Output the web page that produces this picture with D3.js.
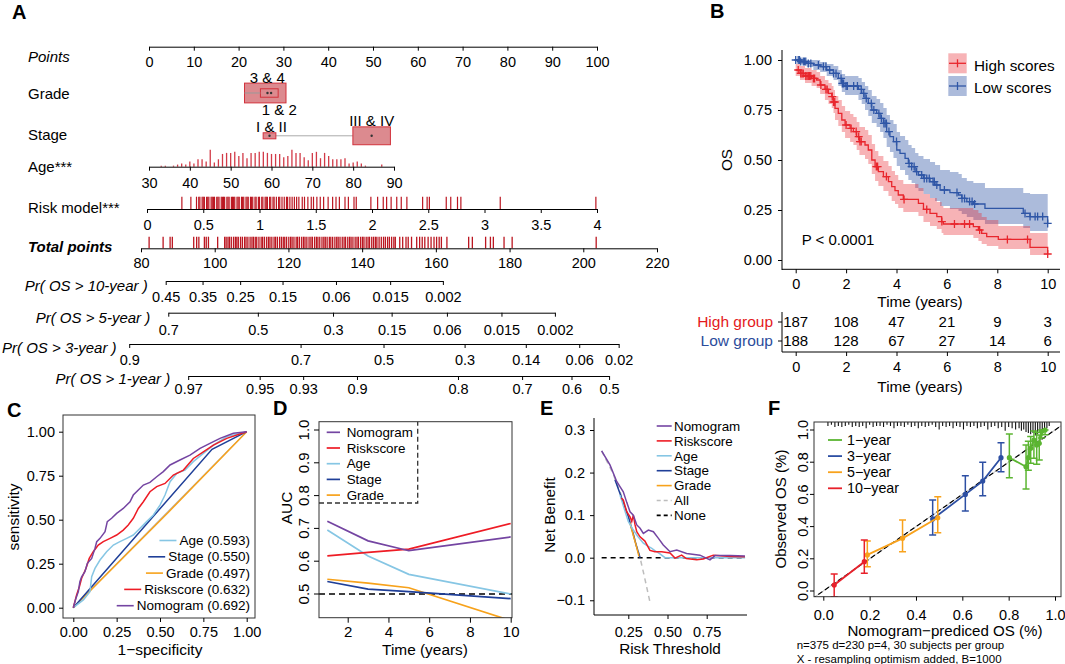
<!DOCTYPE html>
<html>
<head>
<meta charset="utf-8">
<script src="https://cdn.jsdelivr.net/npm/d3@7"></script>
<style>
  body { margin: 0; background: #fff; }
</style>
</head>
<body>
<script>
// ---------------- A: nomogram ----------------
var pointsTicks = [0, 10, 20, 30, 40, 50, 60, 70, 80, 90, 100];
var gradeLevels = ["3 & 4", "1 & 2"];
var gradePoints = [25.95, 26.85];
var gradeShare = [0.82, 0.15];
var stageLevels = ["I & II", "III & IV"];
var stagePoints = [26.9, 49.7];
var stageShare = [0.077, 0.671];
var ageTicks = [30, 40, 50, 60, 70, 80, 90];
var ageBins = [33,34,36,37,38,39,40,41,42,43,44,45,46,47,48,49,50,51,52,53,54,55,56,57,58,59,60,61,62,63,64,65,66,67,68,69,70,71,72,73,74,75,76,77,78,79,80,81,82,83,87];
var ageCounts = [1,1,1,2,3,2,5,3,7,7,5,16,4,7,12,13,13,14,10,13,8,13,13,14,14,13,12,12,12,9,10,16,13,13,9,6,13,14,8,13,10,7,7,7,8,3,4,5,3,1,2];
var riskTicks = [0, 0.5, 1, 1.5, 2, 2.5, 3, 3.5, 4];
var riskRug = [0.31,0.39,0.44,0.46,0.47,0.49,0.5,0.51,0.53,0.54,0.55,0.57,0.58,0.59,0.6,0.62,0.63,0.64,0.66,0.67,0.68,0.69,0.71,0.72,0.73,0.75,0.76,0.77,0.78,0.8,0.81,0.82,0.84,0.85,0.86,0.88,0.89,0.9,0.92,0.93,0.94,0.96,0.97,0.99,1.0,1.02,1.03,1.05,1.06,1.07,1.09,1.1,1.12,1.13,1.15,1.17,1.18,1.2,1.22,1.24,1.25,1.27,1.29,1.31,1.33,1.35,1.38,1.4,1.43,1.46,1.48,1.51,1.54,1.57,1.61,1.65,1.68,1.71,1.76,1.79,1.84,1.86,1.99,2.05,2.10,2.13,2.17,2.22,2.26,2.31,2.45,2.49,2.51,2.66,2.70,2.76,2.79,3.14,3.99];
var totalTicks = [80, 100, 120, 140, 160, 180, 200, 220];
var totalRug = [82.2,86.0,87.9,88.5,94.3,95.1,95.7,97.2,97.7,98.3,100.8,
  102.7,103.1,103.6,104.0,104.5,105.1,105.6,106.0,106.4,107.0,107.5,108.1,108.5,109.0,109.6,110.1,110.5,111.0,111.4,112.0,
  112.6,113.0,113.5,114.1,114.6,115.0,115.5,116.1,116.5,117.0,117.6,118.1,118.6,119.0,119.5,120.1,120.6,121.0,121.5,122.1,
  122.5,123.0,123.6,124.1,124.5,125.0,125.6,126.1,126.5,127.1,127.6,128.0,128.5,129.1,129.6,130.0,130.5,131.1,131.5,132.0,
  132.6,133.1,133.5,134.0,134.6,135.1,135.5,136.1,136.6,137.0,137.5,138.1,138.6,139.0,139.6,140.1,140.5,141.1,141.6,142.0,
  142.6,143.1,143.6,144.0,144.6,145.2,145.8,146.3,146.9,147.4,148.0,148.6,149.0,
  150.2,151.0,151.9,152.5,153.4,154.8,155.6,156.3,157.0,157.9,158.7,159.5,160.2,160.9,161.5,163.0,
  168.9,169.9,173.5,174.8,175.6,178.5,180.7,203.5];
var os10Labels = ["0.45","0.35","0.25","0.15","0.06","0.015","0.002"];
var os10Points = [86.7, 96.7, 106.9, 118.4, 132.9, 147.6, 161.9];
var os5Labels = ["0.7","0.5","0.3","0.15","0.06","0.015","0.002"];
var os5Points = [87.4, 111.7, 132.1, 148.0, 163.0, 177.8, 192.3];
var os3Labels = ["0.9","0.7","0.5","0.3","0.14","0.06","0.02"];
var os3Points = [76.8, 123.3, 145.8, 167.8, 184.4, 198.9, 209.6];
var os1Labels = ["0.97","0.95","0.93","0.9","0.8","0.7","0.6","0.5"];
var os1Points = [92.8, 112.2, 124.0, 138.6, 166.0, 183.4, 196.8, 207.0];

// ---------------- B: Kaplan-Meier ----------------
// [time, survival, lower, upper]
var kmHigh = [[0,0.95,0.92,0.98],[0.17,0.933,0.90,0.97],[0.37,0.92,0.885,0.96],[0.63,0.908,0.87,0.95],[0.83,0.90,0.86,0.94],
  [0.97,0.875,0.83,0.92],[1.16,0.853,0.80,0.90],[1.3,0.833,0.78,0.885],[1.43,0.817,0.76,0.87],[1.5,0.79,0.735,0.85],
  [1.56,0.758,0.70,0.82],[1.69,0.733,0.67,0.80],[1.83,0.70,0.64,0.77],[1.96,0.675,0.61,0.745],[2.16,0.658,0.59,0.73],
  [2.29,0.642,0.575,0.715],[2.42,0.617,0.55,0.69],[2.53,0.592,0.525,0.665],[2.75,0.575,0.505,0.65],[2.88,0.55,0.48,0.625],
  [3.02,0.50,0.43,0.58],[3.15,0.467,0.395,0.545],[3.28,0.442,0.37,0.52],[3.48,0.417,0.345,0.495],[3.68,0.392,0.32,0.47],
  [3.81,0.367,0.295,0.445],[3.94,0.347,0.28,0.425],[4.07,0.325,0.26,0.40],[4.27,0.303,0.24,0.38],[4.87,0.283,0.22,0.36],
  [5.07,0.253,0.19,0.33],[5.33,0.233,0.17,0.31],[5.6,0.217,0.155,0.29],[5.79,0.192,0.135,0.27],[5.86,0.18,0.125,0.26],
  [7.05,0.167,0.11,0.25],[7.25,0.15,0.095,0.235],[7.38,0.133,0.08,0.215],[7.58,0.117,0.07,0.20],[8.04,0.103,0.055,0.17],
  [9.3,0.063,0.025,0.135],[10,0.03,0.0,0.133]];
var kmLow = [[0,1.0,1.0,1.0],[0.17,0.992,0.98,1.0],[0.44,0.983,0.965,1.0],[0.7,0.975,0.95,1.0],[0.97,0.967,0.94,0.99],
  [1.23,0.95,0.92,0.98],[1.5,0.933,0.90,0.97],[1.69,0.908,0.87,0.95],[1.83,0.883,0.84,0.93],[1.96,0.87,0.825,0.92],
  [2.49,0.853,0.80,0.91],[2.62,0.833,0.78,0.89],[2.75,0.808,0.75,0.87],[2.88,0.783,0.72,0.85],[3.02,0.75,0.685,0.82],
  [3.21,0.733,0.665,0.805],[3.35,0.708,0.64,0.785],[3.48,0.683,0.61,0.76],[3.61,0.642,0.565,0.725],[3.74,0.617,0.54,0.70],
  [3.88,0.592,0.51,0.68],[4.01,0.55,0.47,0.64],[4.14,0.533,0.45,0.62],[4.34,0.508,0.425,0.60],[4.47,0.483,0.40,0.575],
  [4.6,0.467,0.385,0.56],[4.74,0.442,0.36,0.535],[4.87,0.425,0.345,0.52],[5.07,0.408,0.33,0.505],[5.33,0.392,0.31,0.49],
  [5.53,0.375,0.295,0.475],[5.73,0.35,0.27,0.45],[6.12,0.337,0.255,0.44],[6.46,0.325,0.245,0.43],[6.59,0.308,0.23,0.41],
  [6.79,0.292,0.215,0.395],[7.05,0.28,0.20,0.385],[7.51,0.258,0.18,0.36],[9.03,0.233,0.16,0.335],[9.3,0.217,0.145,0.33],
  [10,0.183,0.13,0.33]];
var highCensor = [0.1,0.2,0.25,0.3,0.4,0.45,0.5,0.55,0.6,0.7,0.75,1.0,1.2,1.25,1.45,1.5,1.55,2.0,2.2,2.4,2.5,2.55,2.6,3.2,3.25,3.6,4.3,5.2,5.8,6.3,6.7,6.9,7.3,8.4,9.2,10];
var lowCensor = [0.0,0.1,0.15,0.2,0.3,0.35,0.4,0.5,0.6,0.9,1.1,1.2,1.35,1.5,1.6,1.8,1.85,1.9,2.0,2.05,2.3,2.45,2.6,2.7,2.8,3.0,3.1,3.3,3.4,3.5,3.55,3.6,3.7,4.0,4.5,4.6,4.7,4.8,5.0,5.1,5.2,5.3,5.45,5.5,5.6,5.9,6.4,6.6,6.7,6.9,7.0,7.1,9.1,9.3,9.5,9.6,9.8,10];
var kmTimes = [0, 2, 4, 6, 8, 10];
var kmSurvTicks = [0, 0.25, 0.5, 0.75, 1];
var riskHigh = [187, 108, 47, 21, 9, 3];
var riskLow = [188, 128, 67, 27, 14, 6];

// ---------------- C: ROC ----------------
var rocTicks = [0, 0.25, 0.5, 0.75, 1];
var rocAge = [[0,0],[0.058,0.044],[0.096,0.091],[0.106,0.176],[0.125,0.223],[0.154,0.271],[0.192,0.318],[0.231,0.356],[0.269,0.375],[0.308,0.394],[0.346,0.413],[0.385,0.451],[0.423,0.489],[0.462,0.527],[0.5,0.583],[0.529,0.64],[0.558,0.716],[0.596,0.763],[0.644,0.782],[0.692,0.83],[0.75,0.877],[0.808,0.924],[0.885,0.972],[1,1]];
var rocStage = [[0,0],[0.8,0.9],[1,1]];
var rocGrade = [[0,0],[0.55,0.544],[1,1]];
var rocRisk = [[0,0],[0.019,0.072],[0.035,0.119],[0.048,0.167],[0.073,0.223],[0.092,0.28],[0.115,0.318],[0.144,0.356],[0.173,0.375],[0.212,0.394],[0.25,0.413],[0.288,0.441],[0.317,0.47],[0.346,0.508],[0.375,0.564],[0.404,0.602],[0.442,0.659],[0.481,0.688],[0.529,0.706],[0.577,0.754],[0.635,0.782],[0.692,0.848],[0.75,0.886],[0.808,0.924],[0.885,0.962],[1,1]];
var rocNomo = [[0,0],[0.015,0.053],[0.029,0.091],[0.038,0.148],[0.048,0.176],[0.067,0.205],[0.081,0.252],[0.106,0.28],[0.125,0.337],[0.135,0.375],[0.154,0.394],[0.183,0.432],[0.196,0.489],[0.221,0.508],[0.25,0.536],[0.288,0.564],[0.327,0.602],[0.346,0.64],[0.375,0.669],[0.404,0.697],[0.442,0.712],[0.481,0.744],[0.519,0.773],[0.558,0.811],[0.615,0.839],[0.673,0.867],[0.731,0.905],[0.788,0.934],[0.846,0.962],[0.923,0.991],[1,1]];
var rocLabels = ["Age (0.593)", "Stage (0.550)", "Grade (0.497)", "Riskscore (0.632)", "Nomogram (0.692)"];

// ---------------- D: time-dependent AUC ----------------
var aucTimes = [1, 3, 5, 10];
var aucNomo = [0.722, 0.662, 0.632, 0.674];
var aucRisk = [0.616, 0.627, 0.637, 0.715];
var aucAge = [0.695, 0.616, 0.56, 0.5];
var aucStage = [0.538, 0.515, 0.507, 0.486];
var aucGrade = [0.545, 0.533, 0.519, 0.419];
var aucXTicks = [2, 4, 6, 8, 10];
var aucYTicks = [0.5, 0.6, 0.7, 0.8, 0.9, 1.0];

// ---------------- E: decision curves ----------------
var dcaAll = [[0.08,0.251],[0.15,0.2],[0.2,0.152],[0.25,0.097],[0.3,0.03],[0.325,0],[0.35,-0.04],[0.388,-0.104]];
var dcaNone = [[0.08,0],[0.995,0]];
var dcaStage = [[0.165,0.183],[0.2,0.148],[0.25,0.097],[0.28,0.058],[0.3,0.03],[0.325,0]];
var dcaGrade = [[0.26,0.082],[0.28,0.055],[0.3,0.029],[0.318,0.003]];
var dcaAge = [[0.197,0.147],[0.22,0.12],[0.25,0.085],[0.282,0.065],[0.31,0.05],[0.346,0.034],[0.375,0.027],[0.4,0.022],[0.43,0.014],[0.452,0.009],[0.484,0.0],[0.995,0.0]];
var dcaRisk = [[0.205,0.14],[0.218,0.136],[0.24,0.108],[0.261,0.096],[0.272,0.085],[0.282,0.1],[0.293,0.077],[0.304,0.061],[0.325,0.049],[0.356,0.039],[0.388,0.017],[0.42,0.014],[0.463,0.014],[0.516,0.011],[0.548,-0.001],[0.59,0.006],[0.62,-0.002],[0.686,-0.005],[0.728,-0.003],[0.748,0.0],[0.792,0.006],[0.9,0.003],[0.994,0.002]];
var dcaNomo = [[0.08,0.251],[0.133,0.218],[0.176,0.179],[0.197,0.167],[0.218,0.155],[0.24,0.13],[0.261,0.108],[0.282,0.1],[0.304,0.077],[0.325,0.069],[0.346,0.057],[0.378,0.065],[0.41,0.061],[0.441,0.046],[0.473,0.03],[0.516,0.014],[0.559,0.018],[0.622,0.01],[0.707,0.006],[0.771,-0.005],[0.803,0.005],[0.9,0.005],[0.994,0.004]];
var dcaXTicks = [0.25, 0.5, 0.75];
var dcaYTicks = [-0.1, 0, 0.1, 0.2, 0.3];

// ---------------- F: calibration ----------------
// [predicted, observed, lower, upper]
var cal1 = [[0.803,0.828,0.704,0.975],[0.875,0.772,0.634,0.907],[0.885,0.828,0.75,0.93],[0.895,0.886,0.793,0.959],[0.909,0.938,0.824,0.994],[0.921,0.907,0.787,0.986],[0.932,0.917,0.814,0.969],[0.942,0.99,0.95,1.0],[0.957,1.0,0.97,1.0]];
var cal3 = [[0.472,0.447,0.348,0.565],[0.613,0.6,0.497,0.716],[0.688,0.683,0.592,0.799],[0.767,0.828,0.741,0.921]];
var cal5 = [[0.19,0.224,0.151,0.31],[0.342,0.327,0.244,0.441],[0.494,0.455,0.362,0.586]];
var cal10 = [[0.047,0.037,-0.035,0.106],[0.177,0.182,0.11,0.317]];
var calTicks = [0, 0.2, 0.4, 0.6, 0.8, 1.0];
var calRug = [[0.02,2],[0.035,1],[0.05,3],[0.065,2],[0.08,3],[0.095,2],[0.11,1],[0.125,3],[0.14,2],[0.155,3],[0.17,2],[0.185,4],[0.2,1],[0.215,3],[0.23,2],[0.245,2],[0.26,3],[0.275,1],[0.29,2],[0.305,4],[0.32,2],[0.335,2],[0.35,3],[0.365,1],[0.38,3],[0.395,2],[0.41,4],[0.425,2],[0.44,3],[0.455,2],[0.47,1],[0.485,3],[0.5,5],[0.515,2],[0.53,3],[0.545,2],[0.56,4],[0.575,2],[0.59,3],[0.605,5],[0.62,2],[0.635,3],[0.65,2],[0.665,4],[0.68,3],[0.695,2],[0.71,5],[0.725,3],[0.74,2],[0.755,4],[0.77,3],[0.785,6],[0.8,3],[0.815,4],[0.83,5],[0.845,4],[0.855,6],[0.865,5],[0.875,7],[0.885,8],[0.895,9],[0.905,8],[0.915,10],[0.925,9],[0.935,8],[0.945,7],[0.955,6],[0.965,4],[0.975,2]];

//colours
var RED = "#e8262d", BLUE = "#2f56a6";
var COL = { nomo: "#7445a2", risk: "#ee1c25", age: "#86c6e4", stage: "#1f3f98", grade: "#f7a21b" };
var FONT = "'Liberation Sans', Arial, Helvetica, sans-serif";

//create SVG element
var svg = d3.select("body").append("svg")
  .attr("width", 1065).attr("height", 664)
  .style("font-family", FONT);

function txt(x, y, s, size, opt) {
  opt = opt || {};
  var t = svg.append("text").attr("x", x).attr("y", y).text(s)
    .attr("font-size", size)
    .attr("text-anchor", opt.anchor || "start")
    .attr("fill", opt.fill || "#000");
  if (opt.weight) t.attr("font-weight", opt.weight);
  if (opt.style) t.attr("font-style", opt.style);
  if (opt.rotate) t.attr("transform", "rotate(-90," + x + "," + y + ")");
  return t;
}

function styleAxis(g, size) {
  g.attr("font-size", size).attr("font-family", FONT);
  g.selectAll("line").attr("stroke", "#000");
  g.selectAll("path.domain").attr("stroke", "#000");
  g.selectAll("text").attr("fill", "#000");
  return g;
}

function seg(x1, y1, x2, y2, col, w, dash) {
  var l = svg.append("line").attr("x1", x1).attr("y1", y1).attr("x2", x2).attr("y2", y2)
    .attr("stroke", col).attr("stroke-width", w || 1);
  if (dash) l.attr("stroke-dasharray", dash);
  return l;
}

// panel letters
txt(12, 19, "A", 20, {weight: "bold"});
txt(710, 18, "B", 20, {weight: "bold"});
txt(7, 417, "C", 20, {weight: "bold"});
txt(273, 415, "D", 20, {weight: "bold"});
txt(540, 415, "E", 20, {weight: "bold"});
txt(768, 415, "F", 20, {weight: "bold"});

// ================= A =================
var ptsX = d3.scaleLinear().domain([0, 100]).range([149, 597]);
var ageX = d3.scaleLinear().domain([30, 90]).range([149, 394]);
var riskX = d3.scaleLinear().domain([0, 4]).range([147, 597]);
var totX = d3.scaleLinear().domain([80, 220]).range([141, 657]);

function nomoAxis(scale, vals, fmt, y, pad) {
  var g = svg.append("g").attr("transform", "translate(0," + y + ")")
    .call(d3.axisBottom(scale).tickValues(vals).tickFormat(fmt)
      .tickSize(4).tickSizeOuter(0).tickPadding(pad));
  return styleAxis(g, 14.5);
}

nomoAxis(ptsX, pointsTicks, function(d){ return String(d); }, 46.7, 6);
txt(28, 62, "Points", 15, {style: "italic"});
txt(28, 99, "Grade", 15);
txt(28, 140, "Stage", 15);
txt(28, 172, "Age***", 15);
txt(28, 213, "Risk model***", 15);
txt(28, 252, "Total points", 15, {style: "italic", weight: "bold"});

function boxW(s) { return Math.sqrt(s * 1000 * 2.1); }
function boxH(s) { return Math.sqrt(s * 1000 / 2.1); }

// grade
var gradeY = 93;
gradeLevels.forEach(function(lv, i) {
  var cx = ptsX(gradePoints[i]), w = boxW(gradeShare[i]), h = boxH(gradeShare[i]);
  svg.append("rect").attr("x", cx - w / 2).attr("y", gradeY - h / 2).attr("width", w).attr("height", h)
    .attr("fill", "#dc8a8f").attr("stroke", "#d2323c").attr("stroke-width", 1);
});
seg(ptsX(gradePoints[0]) - boxW(gradeShare[0]) / 2, gradeY, ptsX(gradePoints[1]) - boxW(gradeShare[1]) / 2, gradeY, "#999", 1);
txt(ptsX(gradePoints[0]) + 2, gradeY - boxH(gradeShare[0]) / 2, gradeLevels[0], 15, {anchor: "middle"});
txt(ptsX(gradePoints[1]) + 10, gradeY + 22, gradeLevels[1], 15, {anchor: "middle"});
svg.append("circle").attr("cx", ptsX(gradePoints[1]) - 1.8).attr("cy", gradeY).attr("r", 1.2).attr("fill", "#333");
svg.append("circle").attr("cx", ptsX(gradePoints[1]) + 1.8).attr("cy", gradeY).attr("r", 1.2).attr("fill", "#333");

// stage
var stageY = 135.8;
seg(ptsX(stagePoints[0]), stageY, ptsX(stagePoints[1]), stageY, "#aaa", 1);
stageLevels.forEach(function(lv, i) {
  var cx = ptsX(stagePoints[i]), w = boxW(stageShare[i]), h = boxH(stageShare[i]);
  svg.append("rect").attr("x", cx - w / 2).attr("y", stageY - h / 2).attr("width", w).attr("height", h)
    .attr("fill", "#dc8a8f").attr("stroke", "#d2323c").attr("stroke-width", 1);
  svg.append("circle").attr("cx", cx).attr("cy", stageY).attr("r", 1.2).attr("fill", "#333");
  txt(cx + (i === 0 ? 2 : 0), stageY - h / 2 - 1, lv, 15, {anchor: "middle"});
});

// age histogram spikes
var ageLineY = 166.7;
var ageH = d3.scaleLinear().domain([0, 16]).range([0, 17]);
ageBins.forEach(function(a, i) {
  seg(ageX(a), ageLineY, ageX(a), ageLineY - ageH(ageCounts[i]), "#d23a47", 1.3);
});
nomoAxis(ageX, ageTicks, function(d){ return String(d); }, ageLineY, 7);

// risk model rug
riskRug.forEach(function(v) { seg(riskX(v), 196.7, riskX(v), 209, "#bb1620", 1.2); });
nomoAxis(riskX, riskTicks, function(d){ return String(d); }, 209, 6.7);

// total points rug
totalRug.forEach(function(v) { seg(totX(v), 236.7, totX(v), 248.3, "#bb1620", 1.3); });
nomoAxis(totX, totalTicks, function(d){ return String(d); }, 248.3, 5.4);

function probAxis(labels, tp, y, pad, name, nameY) {
  var s = d3.scaleLinear().domain([tp[0], tp[tp.length - 1]])
    .range([totX(tp[0]), totX(tp[tp.length - 1])]);
  nomoAxis(s, tp, function(d) { return labels[tp.indexOf(d)]; }, y, pad);
  var t = txt(0, nameY, name, 15, {style: "italic"});
  var w = t.node().getComputedTextLength();
  var end = Math.max(totX(tp[0]) - 18, w + 2);
  t.attr("x", end).attr("text-anchor", "end");
}
probAxis(os10Labels, os10Points, 281, 6.4, "Pr( OS > 10-year )", 291);
probAxis(os5Labels, os5Points, 312.7, 8, "Pr( OS > 5-year )", 323);
probAxis(os3Labels, os3Points, 344, 6.7, "Pr( OS > 3-year )", 353);
probAxis(os1Labels, os1Points, 376, 3.7, "Pr( OS > 1-year )", 384);

// ================= B =================
var kmX = d3.scaleLinear().domain([0, 10]).range([795.7, 1047.7]);
var kmY = d3.scaleLinear().domain([0, 1]).range([260, 60]);

var band = d3.area().curve(d3.curveStepAfter)
  .x(function(d){ return kmX(d[0]); })
  .y0(function(d){ return kmY(d[2]); })
  .y1(function(d){ return kmY(d[3]); });
var step = d3.line().curve(d3.curveStepAfter)
  .x(function(d){ return kmX(d[0]); })
  .y(function(d){ return kmY(d[1]); });

svg.append("path").datum(kmLow).attr("d", band).attr("fill", BLUE).attr("fill-opacity", 0.4);
svg.append("path").datum(kmHigh).attr("d", band).attr("fill", RED).attr("fill-opacity", 0.35);
svg.append("path").datum(kmLow).attr("d", step).attr("fill", "none").attr("stroke", BLUE).attr("stroke-width", 1.3);
svg.append("path").datum(kmHigh).attr("d", step).attr("fill", "none").attr("stroke", RED).attr("stroke-width", 1.3);

function survAt(curve, t) {
  var i = d3.bisector(function(d){ return d[0]; }).right(curve, t) - 1;
  return curve[Math.max(0, i)][1];
}
function cross(x, y, col) {
  svg.append("path").attr("d", "M" + (x - 4) + "," + y + "h8M" + x + "," + (y - 4) + "v8")
    .attr("stroke", col).attr("stroke-width", 1.3).attr("fill", "none");
}
lowCensor.forEach(function(t){ cross(kmX(t), kmY(survAt(kmLow, t)), BLUE); });
highCensor.forEach(function(t){ cross(kmX(t), kmY(survAt(kmHigh, t)), RED); });

// legend
svg.append("rect").attr("x", 948.3).attr("y", 53.3).attr("width", 18.4).attr("height", 20).attr("fill", RED).attr("fill-opacity", 0.35);
svg.append("rect").attr("x", 948.3).attr("y", 76).attr("width", 18.4).attr("height", 20).attr("fill", BLUE).attr("fill-opacity", 0.4);
seg(949, 63.3, 966, 63.3, RED, 1.3); seg(957.5, 59.3, 957.5, 67.3, RED, 1.3);
seg(949, 86, 966, 86, BLUE, 1.3); seg(957.5, 82, 957.5, 90, BLUE, 1.3);
txt(974, 70.5, "High scores", 15.3);
txt(974, 93, "Low scores", 15.3);
txt(801.7, 245, "P < 0.0001", 15);

// axes
var kmGy = svg.append("g").attr("transform", "translate(782,0)")
  .call(d3.axisLeft(kmY).tickValues(kmSurvTicks).tickFormat(d3.format(".2f")).tickSize(4).tickPadding(6));
kmGy.select(".domain").remove();
styleAxis(kmGy, 14.5);
seg(782, 50, 782, 270, "#000", 1);
var kmGx = svg.append("g").attr("transform", "translate(0,269.3)")
  .call(d3.axisBottom(kmX).tickValues(kmTimes).tickSize(4).tickPadding(5.5));
kmGx.select(".domain").remove();
styleAxis(kmGx, 14.5);
seg(782, 269.3, 1060, 269.3, "#000", 1);
txt(920, 306.5, "Time (years)", 15.3, {anchor: "middle"});
txt(732, 160, "OS", 15.3, {anchor: "middle", rotate: true});

// risk table
txt(773, 327, "High group", 15.5, {anchor: "end", fill: "#e41a1c"});
txt(773, 346, "Low group", 15.5, {anchor: "end", fill: "#2b4c9b"});
kmTimes.forEach(function(t, i) {
  txt(kmX(t), 327, riskHigh[i], 15, {anchor: "middle"});
  txt(kmX(t), 346, riskLow[i], 15, {anchor: "middle"});
});
seg(782, 312, 782, 352, "#000", 1);
seg(778, 322, 782, 322, "#000", 1);
seg(778, 341, 782, 341, "#000", 1);
var rtGx = svg.append("g").attr("transform", "translate(0,352)")
  .call(d3.axisBottom(kmX).tickValues(kmTimes).tickSize(4).tickPadding(6.2));
rtGx.select(".domain").remove();
styleAxis(rtGx, 14.5);
seg(782, 352, 1060, 352, "#000", 1);
txt(920, 392, "Time (years)", 15.3, {anchor: "middle"});

// ================= C =================
var rcX = d3.scaleLinear().domain([0, 1]).range([73.3, 246.7]);
var rcY = d3.scaleLinear().domain([0, 1]).range([607.7, 431.7]);
var rocLine = d3.line().x(function(d){ return rcX(d[0]); }).y(function(d){ return rcY(d[1]); });
svg.append("path").datum([[0,0],[1,1]]).attr("d", rocLine).attr("stroke", "#b0b0b0").attr("stroke-width", 1.2).attr("fill", "none");
[[rocGrade, COL.grade], [rocStage, COL.stage], [rocAge, COL.age], [rocRisk, COL.risk], [rocNomo, COL.nomo]].forEach(function(s) {
  svg.append("path").datum(s[0]).attr("d", rocLine).attr("stroke", s[1]).attr("stroke-width", 1.5).attr("fill", "none");
});
svg.append("rect").attr("x", 63).attr("y", 415).attr("width", 192).attr("height", 203)
  .attr("fill", "none").attr("stroke", "#333").attr("stroke-width", 1);
var rcGy = svg.append("g").attr("transform", "translate(63,0)")
  .call(d3.axisLeft(rcY).tickValues(rocTicks).tickFormat(d3.format(".2f")).tickSize(4).tickPadding(4));
rcGy.select(".domain").remove();
styleAxis(rcGy, 14.5);
var rcGx = svg.append("g").attr("transform", "translate(0,618)")
  .call(d3.axisBottom(rcX).tickValues(rocTicks).tickFormat(d3.format(".2f")).tickSize(4).tickPadding(5.2));
rcGx.select(".domain").remove();
styleAxis(rcGx, 14.5);
txt(160, 655, "1\u2212specificity", 15.5, {anchor: "middle"});
txt(19, 517, "sensitivity", 15.5, {anchor: "middle", rotate: true});
var rocCols = [COL.age, COL.stage, COL.grade, COL.risk, COL.nomo];
rocLabels.forEach(function(lb, i) {
  var by = 545 + i * 16.3;
  var t = txt(250, by, lb, 13.5, {anchor: "end"});
  var w = t.node().getComputedTextLength();
  seg(250 - w - 20, by - 4.5, 250 - w - 3, by - 4.5, rocCols[i], 1.6);
});

// ================= D =================
var adX = d3.scaleLinear().domain([2, 10]).range([347.7, 510.7]);
var adY = d3.scaleLinear().domain([0.5, 1.0]).range([594, 430]);
svg.append("clipPath").attr("id", "clipD").append("rect")
  .attr("x", 319).attr("y", 421.7).attr("width", 193).attr("height", 196);
var gD = svg.append("g").attr("clip-path", "url(#clipD)");
gD.append("line").attr("x1", 319).attr("x2", 512).attr("y1", adY(0.5)).attr("y2", adY(0.5))
  .attr("stroke", "#000").attr("stroke-width", 1.5).attr("stroke-dasharray", "6,4");
var aucLine = d3.line().x(function(d, i){ return adX(aucTimes[i]); }).y(function(d){ return adY(d); });
[[aucGrade, COL.grade], [aucStage, COL.stage], [aucAge, COL.age], [aucRisk, COL.risk], [aucNomo, COL.nomo]].forEach(function(s) {
  gD.append("path").datum(s[0]).attr("d", aucLine).attr("stroke", s[1]).attr("stroke-width", 1.7).attr("fill", "none");
});
svg.append("path").attr("d", "M319,503H417.7V421.7").attr("fill", "none")
  .attr("stroke", "#333").attr("stroke-width", 1.3).attr("stroke-dasharray", "5,3");
svg.append("rect").attr("x", 319).attr("y", 421.7).attr("width", 193).attr("height", 196)
  .attr("fill", "none").attr("stroke", "#333").attr("stroke-width", 1);
var aucNames = ["Nomogram", "Riskscore", "Age", "Stage", "Grade"];
var aucCols = [COL.nomo, COL.risk, COL.age, COL.stage, COL.grade];
aucNames.forEach(function(n, i) {
  var cy = 432.3 + i * 15.7;
  seg(326.7, cy, 340, cy, aucCols[i], 1.7);
  txt(346.7, cy + 4.7, n, 13.4);
});
var adGx = svg.append("g").attr("transform", "translate(0,617.7)")
  .call(d3.axisBottom(adX).tickValues(aucXTicks).tickSize(5).tickPadding(4));
adGx.select(".domain").remove();
styleAxis(adGx, 15);
aucYTicks.forEach(function(v) {
  seg(314, adY(v), 319, adY(v), "#000", 1);
  txt(309, adY(v), d3.format(".1f")(v), 15, {anchor: "middle", rotate: true});
});
txt(425, 655, "Time (years)", 15.4, {anchor: "middle"});
txt(292, 508, "AUC", 15.4, {anchor: "middle", rotate: true});

// ================= E =================
var eX = d3.scaleLinear().domain([0.25, 0.75]).range([628.3, 706.7]);
var eY = d3.scaleLinear().domain([0, 0.3]).range([557.7, 430]);
var dcaLine = d3.line().x(function(d){ return eX(d[0]); }).y(function(d){ return eY(d[1]); });
svg.append("path").datum(dcaAll).attr("d", dcaLine).attr("fill", "none").attr("stroke", "#bdbdbd").attr("stroke-width", 1.5).attr("stroke-dasharray", "5,4");
svg.append("path").datum(dcaNone).attr("d", dcaLine).attr("fill", "none").attr("stroke", "#000").attr("stroke-width", 1.5).attr("stroke-dasharray", "5,4");
[[dcaStage, COL.stage], [dcaGrade, COL.grade], [dcaAge, COL.age], [dcaRisk, COL.risk], [dcaNomo, COL.nomo]].forEach(function(s) {
  svg.append("path").datum(s[0]).attr("d", dcaLine).attr("fill", "none").attr("stroke", s[1]).attr("stroke-width", 1.5);
});
seg(594, 418, 594, 615, "#000", 1);
seg(594, 615, 747, 615, "#000", 1);
var eGy = svg.append("g").attr("transform", "translate(594,0)")
  .call(d3.axisLeft(eY).tickValues(dcaYTicks).tickFormat(d3.format(".1f")).tickSize(4).tickPadding(5));
eGy.select(".domain").remove();
styleAxis(eGy, 14.5);
var eGx = svg.append("g").attr("transform", "translate(0,615)")
  .call(d3.axisBottom(eX).tickValues(dcaXTicks).tickFormat(d3.format(".2f")).tickSize(4).tickPadding(8));
eGx.select(".domain").remove();
styleAxis(eGx, 14.5);
txt(670, 654, "Risk Threshold", 15.3, {anchor: "middle"});
txt(555, 515, "Net Benefit", 15.3, {anchor: "middle", rotate: true});
var dcaNames = ["Nomogram", "Riskscore", "Age", "Stage", "Grade", "All", "None"];
var dcaCols = [COL.nomo, COL.risk, COL.age, COL.stage, COL.grade, "#bdbdbd", "#000"];
dcaNames.forEach(function(n, i) {
  var cy = 426 + i * 14.9;
  seg(656.7, cy, 671.7, cy, dcaCols[i], 1.6, i >= 5 ? "4,3" : null);
  txt(674, cy + 4.7, n, 13.4);
});

// ================= F =================
var fX = d3.scaleLinear().domain([0, 1]).range([823.3, 1055]);
var fY = d3.scaleLinear().domain([0, 1]).range([591, 430]);
svg.append("clipPath").attr("id", "clipF").append("rect")
  .attr("x", 814).attr("y", 422).attr("width", 247).attr("height", 174.7);
var gF = svg.append("g").attr("clip-path", "url(#clipF)");
gF.append("line").attr("x1", fX(-0.05)).attr("y1", fY(-0.05)).attr("x2", fX(1.05)).attr("y2", fY(1.05))
  .attr("stroke", "#aaa").attr("stroke-width", 0.8);
gF.append("line").attr("x1", fX(-0.05)).attr("y1", fY(-0.05)).attr("x2", fX(1.05)).attr("y2", fY(1.05))
  .attr("stroke", "#000").attr("stroke-width", 1.2).attr("stroke-dasharray", "5,3");
var rugH = d3.scaleLinear().domain([0, 10]).range([0, 12]);
calRug.forEach(function(r) {
  gF.append("line").attr("x1", fX(r[0])).attr("x2", fX(r[0])).attr("y1", 422).attr("y2", 423.5 + rugH(r[1]))
    .attr("stroke", "#111").attr("stroke-width", 1.1);
});
var calLine = d3.line().x(function(d){ return fX(d[0]); }).y(function(d){ return fY(d[1]); });
var calSets = [[cal1, "#5bb531"], [cal3, "#2d4fa3"], [cal5, "#f8a21c"], [cal10, "#e8202a"]];
calSets.forEach(function(s) {
  var col = s[1];
  gF.append("path").datum(s[0]).attr("d", calLine).attr("fill", "none").attr("stroke", col).attr("stroke-width", 1.8);
  s[0].forEach(function(d) {
    var x = fX(d[0]);
    gF.append("line").attr("x1", x).attr("x2", x).attr("y1", fY(d[2])).attr("y2", fY(d[3])).attr("stroke", col).attr("stroke-width", 1.5);
    gF.append("line").attr("x1", x - 3.5).attr("x2", x + 3.5).attr("y1", fY(d[2])).attr("y2", fY(d[2])).attr("stroke", col).attr("stroke-width", 1.5);
    gF.append("line").attr("x1", x - 3.5).attr("x2", x + 3.5).attr("y1", fY(d[3])).attr("y2", fY(d[3])).attr("stroke", col).attr("stroke-width", 1.5);
    gF.append("circle").attr("cx", x).attr("cy", fY(d[1])).attr("r", 2.6).attr("fill", col);
  });
});
svg.append("rect").attr("x", 814).attr("y", 422).attr("width", 247).attr("height", 174.7)
  .attr("fill", "none").attr("stroke", "#333").attr("stroke-width", 1);
var fGx = svg.append("g").attr("transform", "translate(0,596.7)")
  .call(d3.axisBottom(fX).tickValues(calTicks).tickFormat(d3.format(".1f")).tickSize(4).tickPadding(9));
fGx.select(".domain").remove();
styleAxis(fGx, 14.5);
calTicks.forEach(function(v) {
  seg(810, fY(v), 814, fY(v), "#000", 1);
  txt(808, fY(v), d3.format(".1f")(v), 14.5, {anchor: "middle", rotate: true});
});
var calNames = ["1\u2212year", "3\u2212year", "5\u2212year", "10\u2212year"];
calNames.forEach(function(n, i) {
  var cy = 440 + i * 16.1;
  seg(828, cy, 842, cy, calSets[i][1], 1.8);
  txt(847, cy + 5, n, 14.3);
});
txt(945, 635.5, "Nomogram\u2212prediced OS (%)", 15.1, {anchor: "middle"});
txt(786, 509, "Observed OS (%)", 15.1, {anchor: "middle", rotate: true});
txt(796.7, 649, "n=375 d=230 p=4, 30 subjects per group", 11.5);
txt(796.7, 662.5, "X - resampling optimism added, B=1000", 11.5);
</script>
</body>
</html>
